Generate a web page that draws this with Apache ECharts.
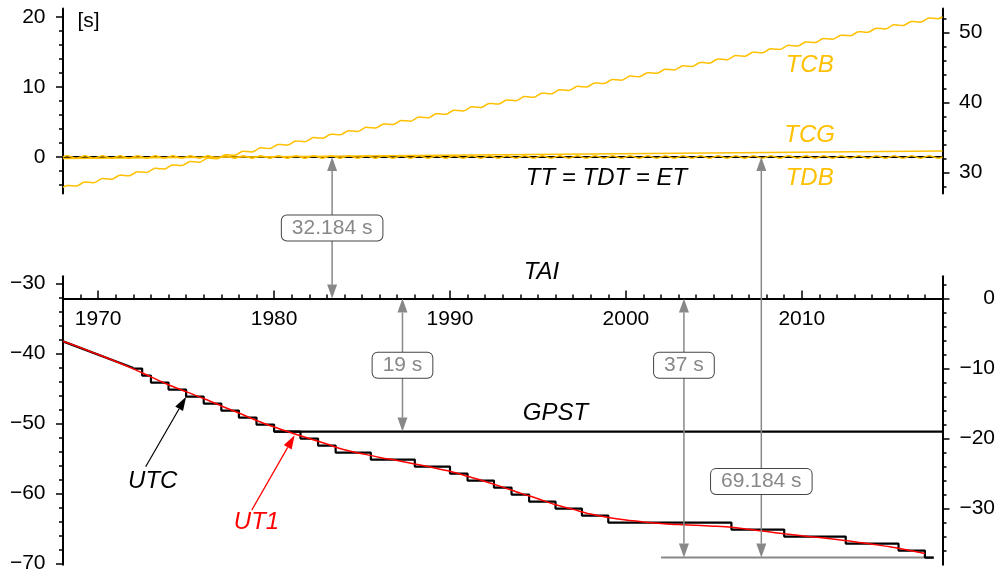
<!DOCTYPE html>
<html>
<head>
<meta charset="utf-8">
<script src="https://cdn.jsdelivr.net/npm/echarts@6/dist/echarts.min.js"></script>
<style>
html, body { margin: 0; padding: 0; background: #fff; }
#chart { width: 997px; height: 576px; }
</style>
</head>
<body>
<div id="chart"></div>
<script>
// ---- data (seconds relative to TT, years) ----
var decadeYears = [1970, 1980, 1990, 2000, 2010];

var ttYears = [1968, 2018];
var ttValues = [0, 0];

var tcgYears = [1968, 2018];
var tcgValues = [-0.2, 0.86];

// quarter-year samples for the annual wiggle of TCB and TDB
var wiggleYears = [
  1968, 1968.25, 1968.5, 1968.75, 1969, 1969.25, 1969.5, 1969.75,
  1970, 1970.25, 1970.5, 1970.75, 1971, 1971.25, 1971.5, 1971.75,
  1972, 1972.25, 1972.5, 1972.75, 1973, 1973.25, 1973.5, 1973.75,
  1974, 1974.25, 1974.5, 1974.75, 1975, 1975.25, 1975.5, 1975.75,
  1976, 1976.25, 1976.5, 1976.75, 1977, 1977.25, 1977.5, 1977.75,
  1978, 1978.25, 1978.5, 1978.75, 1979, 1979.25, 1979.5, 1979.75,
  1980, 1980.25, 1980.5, 1980.75, 1981, 1981.25, 1981.5, 1981.75,
  1982, 1982.25, 1982.5, 1982.75, 1983, 1983.25, 1983.5, 1983.75,
  1984, 1984.25, 1984.5, 1984.75, 1985, 1985.25, 1985.5, 1985.75,
  1986, 1986.25, 1986.5, 1986.75, 1987, 1987.25, 1987.5, 1987.75,
  1988, 1988.25, 1988.5, 1988.75, 1989, 1989.25, 1989.5, 1989.75,
  1990, 1990.25, 1990.5, 1990.75, 1991, 1991.25, 1991.5, 1991.75,
  1992, 1992.25, 1992.5, 1992.75, 1993, 1993.25, 1993.5, 1993.75,
  1994, 1994.25, 1994.5, 1994.75, 1995, 1995.25, 1995.5, 1995.75,
  1996, 1996.25, 1996.5, 1996.75, 1997, 1997.25, 1997.5, 1997.75,
  1998, 1998.25, 1998.5, 1998.75, 1999, 1999.25, 1999.5, 1999.75,
  2000, 2000.25, 2000.5, 2000.75, 2001, 2001.25, 2001.5, 2001.75,
  2002, 2002.25, 2002.5, 2002.75, 2003, 2003.25, 2003.5, 2003.75,
  2004, 2004.25, 2004.5, 2004.75, 2005, 2005.25, 2005.5, 2005.75,
  2006, 2006.25, 2006.5, 2006.75, 2007, 2007.25, 2007.5, 2007.75,
  2008, 2008.25, 2008.5, 2008.75, 2009, 2009.25, 2009.5, 2009.75,
  2010, 2010.25, 2010.5, 2010.75, 2011, 2011.25, 2011.5, 2011.75,
  2012, 2012.25, 2012.5, 2012.75, 2013, 2013.25, 2013.5, 2013.75,
  2014, 2014.25, 2014.5, 2014.75, 2015, 2015.25, 2015.5, 2015.75,
  2016, 2016.25, 2016.5, 2016.75, 2017, 2017.25, 2017.5, 2017.75,
  2018];

var tcbValues = [
  -4.35, -4.06, -4.11, -4.15, -3.86, -3.57, -3.62, -3.67,
  -3.37, -3.08, -3.13, -3.18, -2.89, -2.59, -2.64, -2.69,
  -2.40, -2.11, -2.15, -2.20, -1.91, -1.62, -1.67, -1.71,
  -1.42, -1.13, -1.18, -1.23, -0.93, -0.64, -0.69, -0.74,
  -0.45, -0.15, -0.20, -0.25, 0.04, 0.33, 0.29, 0.24,
  0.53, 0.82, 0.77, 0.73, 1.02, 1.31, 1.26, 1.21,
  1.51, 1.80, 1.75, 1.70, 1.99, 2.29, 2.24, 2.19,
  2.48, 2.77, 2.73, 2.68, 2.97, 3.26, 3.21, 3.17,
  3.46, 3.75, 3.70, 3.65, 3.95, 4.24, 4.19, 4.14,
  4.43, 4.73, 4.68, 4.63, 4.92, 5.21, 5.17, 5.12,
  5.41, 5.70, 5.65, 5.61, 5.90, 6.19, 6.14, 6.09,
  6.39, 6.68, 6.63, 6.58, 6.87, 7.17, 7.12, 7.07,
  7.36, 7.65, 7.61, 7.56, 7.85, 8.14, 8.09, 8.05,
  8.34, 8.63, 8.58, 8.53, 8.83, 9.12, 9.07, 9.02,
  9.31, 9.61, 9.56, 9.51, 9.80, 10.09, 10.05, 10.00,
  10.29, 10.58, 10.53, 10.49, 10.78, 11.07, 11.02, 10.97,
  11.27, 11.56, 11.51, 11.46, 11.75, 12.05, 12.00, 11.95,
  12.24, 12.53, 12.49, 12.44, 12.73, 13.02, 12.97, 12.93,
  13.22, 13.51, 13.46, 13.41, 13.71, 14.00, 13.95, 13.90,
  14.19, 14.49, 14.44, 14.39, 14.68, 14.97, 14.93, 14.88,
  15.17, 15.46, 15.41, 15.37, 15.66, 15.95, 15.90, 15.85,
  16.15, 16.44, 16.39, 16.34, 16.63, 16.93, 16.88, 16.83,
  17.12, 17.41, 17.37, 17.32, 17.61, 17.90, 17.85, 17.81,
  18.10, 18.39, 18.34, 18.29, 18.59, 18.88, 18.83, 18.78,
  19.07, 19.37, 19.32, 19.27, 19.56, 19.85, 19.81, 19.76,
  20.05];

var tdbValues = [
  0, 0.17, 0, -0.17, 0, 0.17, 0, -0.17, 0, 0.17, 0, -0.17, 0, 0.17, 0, -0.17,
  0, 0.17, 0, -0.17, 0, 0.17, 0, -0.17, 0, 0.17, 0, -0.17, 0, 0.17, 0, -0.17,
  0, 0.17, 0, -0.17, 0, 0.17, 0, -0.17, 0, 0.17, 0, -0.17, 0, 0.17, 0, -0.17,
  0, 0.17, 0, -0.17, 0, 0.17, 0, -0.17, 0, 0.17, 0, -0.17, 0, 0.17, 0, -0.17,
  0, 0.17, 0, -0.17, 0, 0.17, 0, -0.17, 0, 0.17, 0, -0.17, 0, 0.17, 0, -0.17,
  0, 0.17, 0, -0.17, 0, 0.17, 0, -0.17, 0, 0.17, 0, -0.17, 0, 0.17, 0, -0.17,
  0, 0.17, 0, -0.17, 0, 0.17, 0, -0.17, 0, 0.17, 0, -0.17, 0, 0.17, 0, -0.17,
  0, 0.17, 0, -0.17, 0, 0.17, 0, -0.17, 0, 0.17, 0, -0.17, 0, 0.17, 0, -0.17,
  0, 0.17, 0, -0.17, 0, 0.17, 0, -0.17, 0, 0.17, 0, -0.17, 0, 0.17, 0, -0.17,
  0, 0.17, 0, -0.17, 0, 0.17, 0, -0.17, 0, 0.17, 0, -0.17, 0, 0.17, 0, -0.17,
  0, 0.17, 0, -0.17, 0, 0.17, 0, -0.17, 0, 0.17, 0, -0.17, 0, 0.17, 0, -0.17,
  0, 0.17, 0, -0.17, 0, 0.17, 0, -0.17, 0, 0.17, 0, -0.17, 0, 0.17, 0, -0.17,
  0, 0.17, 0, -0.17, 0, 0.17, 0, -0.17,
  0];

var utcDriftYears = [1968, 1972];
var utcDriftValues = [-38.3, -42.1];

var leapYears = [1972, 1972.5, 1973, 1974, 1975, 1976, 1977, 1978, 1979, 1980,
  1981.5, 1982.5, 1983.5, 1985.5, 1988, 1990, 1991, 1992.5, 1993.5, 1994.5,
  1996, 1997.5, 1999, 2006, 2009, 2012.5, 2015.5, 2017, 2017.5];
var utcValues = [-42.184, -43.184, -44.184, -45.184, -46.184, -47.184, -48.184, -49.184, -50.184, -51.184,
  -52.184, -53.184, -54.184, -55.184, -56.184, -57.184, -58.184, -59.184, -60.184, -61.184,
  -62.184, -63.184, -64.184, -65.184, -66.184, -67.184, -68.184, -69.184, -69.184];

var ut1Years = [1968, 1969, 1970, 1971, 1972, 1973, 1974, 1975, 1976, 1977,
  1978, 1979, 1980, 1981, 1982, 1983, 1984, 1985, 1986, 1987,
  1988, 1989, 1990, 1991, 1992, 1993, 1994, 1995, 1996, 1997,
  1998, 1999, 2000, 2001, 2002, 2003, 2004, 2005, 2006, 2007,
  2008, 2009, 2010, 2011, 2012, 2013, 2014, 2015, 2016, 2017];
var ut1Values = [-38.29, -39.20, -40.18, -41.17, -42.23, -43.37, -44.49, -45.48, -46.46, -47.52,
  -48.53, -49.59, -50.54, -51.38, -52.17, -52.96, -53.79, -54.34, -54.87, -55.32,
  -55.82, -56.30, -56.86, -57.57, -58.31, -59.12, -59.98, -60.78, -61.63, -62.30,
  -62.97, -63.47, -63.83, -64.09, -64.30, -64.47, -64.57, -64.69, -64.85, -65.15,
  -65.46, -65.78, -66.07, -66.32, -66.60, -66.91, -67.28, -67.64, -68.10, -68.59];

var gpstYears = [1980, 2018];
var gpstValues = [-51.184, -51.184];

var baseYears = [2002, 2017.5];
var baseValues = [-69.184, -69.184];

// offset arrows: year, from (panel), to (bottom panel), label
var arrowYears = [1983.3, 1987.3, 2003.3, 2007.7];
var arrowFrom = [0, -32.184, -32.184, 0];
var arrowFromTop = [true, false, false, true];
var arrowTo = [-32.184, -51.184, -69.184, -69.184];
var arrowLabelAt = [-22.1, -41.7, -41.7, -58.3];
var arrowLabels = ['32.184 s', '19 s', '37 s', '69.184 s'];

// text notes
var topNotes = ['[s]', 'TCB', 'TCG', 'TDB', 'TT = TDT = ET'];
var topNoteX = [1969.45, 2010.45, 2010.45, 2010.45, 1998.9];
var topNoteY = [19.4, 13.1, 3.1, -3.0, -3.0];
var botNotes = ['TAI', 'GPST', 'UTC', 'UT1'];
var botNoteX = [1995.2, 1996.0, 1973.1, 1979.0];
var botNoteY = [-28.46, -48.53, -58.24, -64.17];

var pointerTail = [[1972.7, -56.2], [1978.73, -62.4]];
var pointerTip = [[1975.0, -46.2], [1981.17, -51.7]];

// ---- layout / style ----
var FONT = 'Liberation Sans';
var YELLOW = '#ffc000';
var RED = '#ff0000';
var GREY = '#888888';
var PX = 7;
var LEFT = 63, RIGHT = 54.5;
var TOP_MIN = -5.2, TOP_MAX = 21.2, TOP_Y = 8.6;
var BOT_MIN = -70.2, BOT_MAX = -29, BOT_Y = 276.3;
var TT_TAI = 32.184;
var topNoteColor = ['#000', YELLOW, YELLOW, YELLOW, '#000'];
var topNoteItalic = [false, true, true, true, true];
var botNoteColor = ['#000', '#000', '#000', RED];
var pointerColor = ['#000', RED];

var topH = (TOP_MAX - TOP_MIN) * PX;
var botH = (BOT_MAX - BOT_MIN) * PX;
var allH = BOT_Y + botH - TOP_Y;
var shift = TOP_MAX - (BOT_Y - TOP_Y) / PX - BOT_MAX;
var taiOffset = -(BOT_MAX + TT_TAI) * PX;

function zip(xs, ys) { return xs.map(function (x, i) { return [x, ys[i]]; }); }
function minus(v) { return String(v).replace('-', '\u2212'); }
function range(a, b, step, skip) {
  var out = [];
  for (var v = a; v <= b; v += step) { if (skip.indexOf(v) < 0) out.push(v); }
  return out;
}

var chartDom = document.getElementById('chart');
var myChart = echarts.init(chartDom);

function yMajor(grid, pos, min, max, ticks, align, margin) {
  return {
    type: 'value', gridIndex: grid, position: pos, min: min, max: max,
    axisLine: { show: true, onZero: false, lineStyle: { color: '#000', width: 2 } },
    axisTick: { show: true, length: 7, customValues: ticks, lineStyle: { color: '#000', width: 1.5 } },
    axisLabel: { customValues: ticks, formatter: minus, align: align, margin: margin,
      color: '#000', fontSize: 21, fontFamily: FONT },
    splitLine: { show: false }
  };
}
function yMinor(grid, pos, min, max, ticks) {
  return {
    type: 'value', gridIndex: grid, position: pos, min: min, max: max,
    axisLine: { show: false, onZero: false },
    axisTick: { show: true, length: 4, customValues: ticks, lineStyle: { color: '#000', width: 1.5 } },
    axisLabel: { show: false },
    splitLine: { show: false }
  };
}

var topMajor = [0, 10, 20];
var topRightMajor = [30, 40, 50];
var botMajor = [-70, -60, -50, -40, -30];
var botRightMajor = [-30, -20, -10, 0];

function renderOffsetArrow(params, api) {
  var x = api.value(0);
  var p1 = api.coord([x, api.value(1)]);
  var p2 = api.coord([x, api.value(2)]);
  var pl = api.coord([x, api.value(3)]);
  var hw = 5, hl = 14;
  return {
    type: 'group',
    children: [
      { type: 'line', shape: { x1: p1[0], y1: p1[1] + hl, x2: p2[0], y2: p2[1] - hl },
        style: { stroke: GREY, lineWidth: 1.5 } },
      { type: 'polygon', shape: { points: [[p1[0], p1[1]], [p1[0] - hw, p1[1] + hl], [p1[0] + hw, p1[1] + hl]] },
        style: { fill: GREY } },
      { type: 'polygon', shape: { points: [[p2[0], p2[1]], [p2[0] - hw, p2[1] - hl], [p2[0] + hw, p2[1] - hl]] },
        style: { fill: GREY } },
      { type: 'text', x: pl[0], y: pl[1],
        style: { text: arrowLabels[params.dataIndex], fill: GREY, font: '21px "' + FONT + '"',
          align: 'center', verticalAlign: 'middle', backgroundColor: '#fff',
          borderColor: '#444', borderWidth: 1, borderRadius: 5, padding: [2, 10] } }
    ]
  };
}

function renderPointer(params, api) {
  var p1 = api.coord([api.value(0), api.value(1)]);
  var p2 = api.coord([api.value(2), api.value(3)]);
  var dx = p2[0] - p1[0], dy = p2[1] - p1[1];
  var len = Math.sqrt(dx * dx + dy * dy);
  var ux = dx / len, uy = dy / len;
  var hl = 14, hw = 4.5;
  var bx = p2[0] - ux * hl, by = p2[1] - uy * hl;
  var c = pointerColor[params.dataIndex];
  return {
    type: 'group',
    children: [
      { type: 'line', shape: { x1: p1[0], y1: p1[1], x2: bx, y2: by }, style: { stroke: c, lineWidth: 1.2 } },
      { type: 'polygon', shape: { points: [[p2[0], p2[1]], [bx - uy * hw, by + ux * hw], [bx + uy * hw, by - ux * hw]] },
        style: { fill: c } }
    ]
  };
}

function noteRenderer(texts, colors, italics) {
  return function (params, api) {
    var p = api.coord([api.value(0), api.value(1)]);
    var i = params.dataIndex;
    var it = italics ? italics[i] : true;
    return {
      type: 'text', x: p[0], y: p[1],
      style: { text: texts[i], fill: colors[i],
        font: (it ? 'italic 24px "' : '21px "') + FONT + '"',
        align: 'center', verticalAlign: 'middle' }
    };
  };
}

var arrowData = arrowYears.map(function (y, i) {
  return [y, arrowFromTop[i] ? arrowFrom[i] : arrowFrom[i] + shift, arrowTo[i] + shift, arrowLabelAt[i] + shift];
});
var pointerData = pointerTail.map(function (t, i) {
  return [t[0], t[1], pointerTip[i][0], pointerTip[i][1]];
});

function lineSeries(name, xi, yi, data, color, width, extra) {
  var s = {
    name: name, type: 'line', xAxisIndex: xi, yAxisIndex: yi, data: data,
    symbol: 'none', lineStyle: { color: color, width: width }, itemStyle: { color: color },
    animation: false, silent: true
  };
  for (var k in extra) s[k] = extra[k];
  return s;
}

var option = {
  animation: false,
  textStyle: { fontFamily: FONT },
  grid: [
    { left: LEFT, right: RIGHT, top: TOP_Y, height: topH, outerBoundsMode: 'none' },
    { left: LEFT, right: RIGHT, top: BOT_Y, height: botH, outerBoundsMode: 'none' },
    { left: LEFT, right: RIGHT, top: TOP_Y, height: allH, outerBoundsMode: 'none' }
  ],
  xAxis: [
    { type: 'value', gridIndex: 0, min: 1968, max: 2018, show: false, axisLine: { onZero: false } },
    { type: 'value', gridIndex: 1, min: 1968, max: 2018, interval: 1, position: 'top', offset: taiOffset,
      axisLine: { show: true, onZero: false, lineStyle: { color: '#000', width: 2 } },
      axisTick: { show: true, length: 4, lineStyle: { color: '#000', width: 1.5 } },
      axisLabel: { inside: true, margin: 10, customValues: decadeYears,
        formatter: function (v) { return String(v); },
        color: '#000', fontSize: 21, fontFamily: FONT },
      splitLine: { show: false } },
    { type: 'value', gridIndex: 1, min: 1968, max: 2018, position: 'top', offset: taiOffset,
      axisLine: { show: false, onZero: false },
      axisTick: { show: true, length: 8, customValues: decadeYears, lineStyle: { color: '#000', width: 1.5 } },
      axisLabel: { show: false }, splitLine: { show: false } },
    { type: 'value', gridIndex: 2, min: 1968, max: 2018, show: false, axisLine: { onZero: false } }
  ],
  yAxis: [
    yMajor(0, 'left', TOP_MIN, TOP_MAX, topMajor, 'right', 17.5),
    yMinor(0, 'left', TOP_MIN, TOP_MAX, range(-4, 20, 2, topMajor)),
    yMajor(0, 'right', TOP_MIN + TT_TAI, TOP_MAX + TT_TAI, topRightMajor, 'left', 16.5),
    yMinor(0, 'right', TOP_MIN + TT_TAI, TOP_MAX + TT_TAI, range(28, 52, 2, topRightMajor)),
    yMajor(1, 'left', BOT_MIN, BOT_MAX, botMajor, 'right', 17.5),
    yMinor(1, 'left', BOT_MIN, BOT_MAX, range(-68, -32, 2, botMajor)),
    yMajor(1, 'right', BOT_MIN + TT_TAI, BOT_MAX + TT_TAI, botRightMajor, 'right', 52.5),
    yMinor(1, 'right', BOT_MIN + TT_TAI, BOT_MAX + TT_TAI, range(-36, 2, 2, botRightMajor)),
    { type: 'value', gridIndex: 2, min: TOP_MAX - allH / PX, max: TOP_MAX, show: false, axisLine: { onZero: false } }
  ],
  series: [
    lineSeries('TT', 0, 0, zip(ttYears, ttValues), '#000', 2.2),
    lineSeries('TCG', 0, 0, zip(tcgYears, tcgValues), YELLOW, 1.5),
    lineSeries('TDB', 0, 0, zip(wiggleYears, tdbValues), YELLOW, 1.5, { smooth: 0.5 }),
    lineSeries('TCB', 0, 0, zip(wiggleYears, tcbValues), YELLOW, 1.5, { smooth: 0.5 }),
    lineSeries('base', 1, 4, zip(baseYears, baseValues), GREY, 2),
    lineSeries('GPST', 1, 4, zip(gpstYears, gpstValues), '#000', 2.2),
    lineSeries('UTC drift', 1, 4, zip(utcDriftYears, utcDriftValues), '#000', 2.2),
    lineSeries('UTC', 1, 4, zip(leapYears, utcValues), '#000', 2.2, { step: 'end' }),
    lineSeries('UT1', 1, 4, zip(ut1Years, ut1Values), RED, 1.5, { smooth: 0.3 }),
    { type: 'custom', xAxisIndex: 1, yAxisIndex: 4, data: pointerData, renderItem: renderPointer,
      clip: false, silent: true, z: 5 },
    { type: 'custom', xAxisIndex: 0, yAxisIndex: 0, data: zip(topNoteX, topNoteY),
      renderItem: noteRenderer(topNotes, topNoteColor, topNoteItalic), clip: false, silent: true, z: 6 },
    { type: 'custom', xAxisIndex: 1, yAxisIndex: 4, data: zip(botNoteX, botNoteY),
      renderItem: noteRenderer(botNotes, botNoteColor, null), clip: false, silent: true, z: 6 },
    { type: 'custom', xAxisIndex: 3, yAxisIndex: 8, data: arrowData, renderItem: renderOffsetArrow,
      clip: false, silent: true, z: 7 }
  ]
};

option && myChart.setOption(option);
</script>
</body>
</html>
